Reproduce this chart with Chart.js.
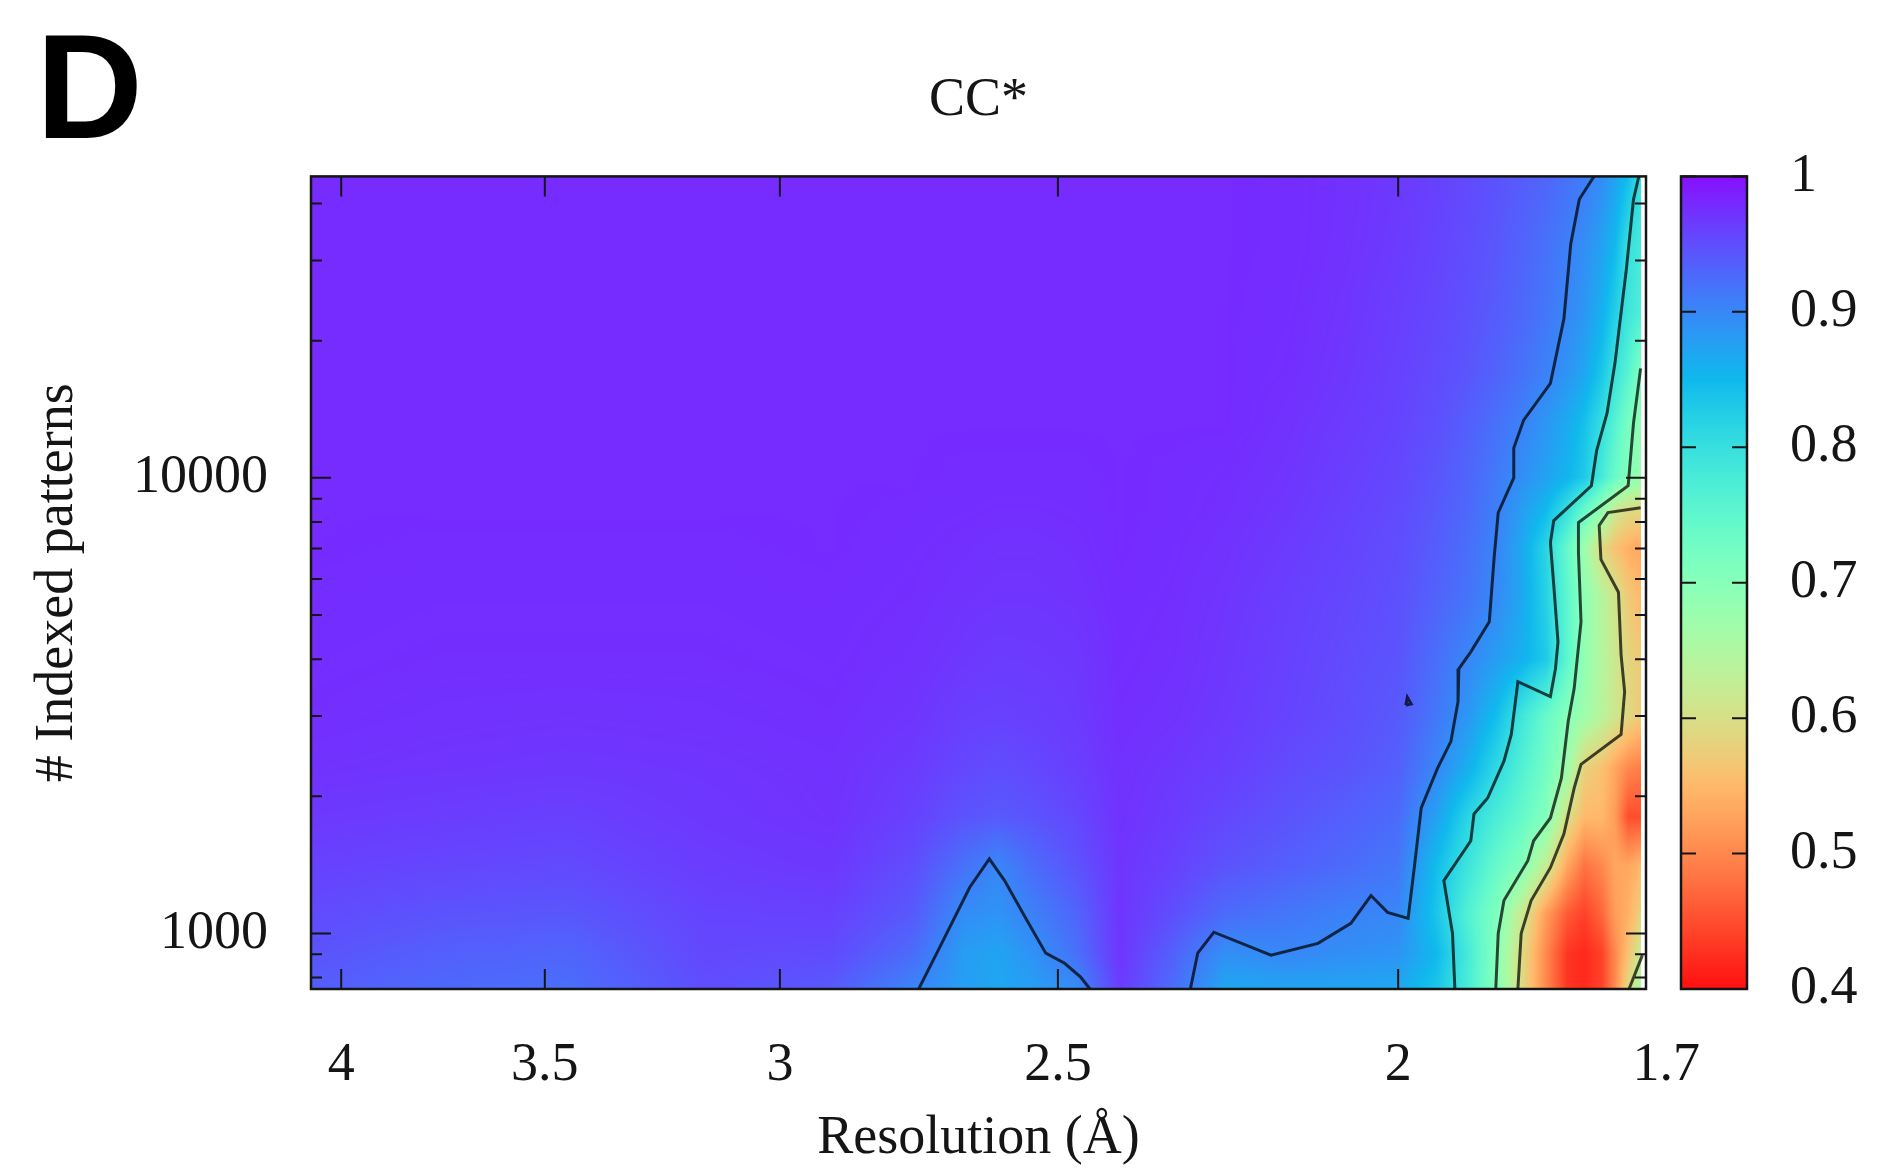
<!DOCTYPE html>
<html>
<head>
<meta charset="utf-8">
<title>CC*</title>
<script src="https://cdn.jsdelivr.net/npm/chart.js@4.4.1/dist/chart.umd.min.js"></script>
<style>
  html, body { margin: 0; padding: 0; background: #fff; }
  #wrap { width: 1887px; height: 1176px; }
</style>
</head>
<body>
<div id="wrap"><canvas id="heat"></canvas></div>
<script>
// grid columns (resolution, A) and rows (# indexed patterns)
const resolution = [4.08, 3.75, 3.45, 3.15, 2.9, 2.75, 2.66, 2.6, 2.54, 2.47, 2.4, 2.32, 2.24, 2.15, 2.07, 2.0, 1.95, 1.91, 1.875, 1.845, 1.815, 1.79, 1.77, 1.75, 1.735, 1.72, 1.706];
const patterns = [755, 900, 1100, 1400, 1800, 2300, 3000, 4000, 5500, 7000, 8500, 10000, 13000, 17000, 23000, 32000, 45900];

// CC* values, one row per pattern count (bottom to top)
const ccStar = [
  [0.937, 0.927, 0.922, 0.95, 0.94, 0.902, 0.878, 0.87, 0.878, 0.895, 0.965, 0.925, 0.87, 0.872, 0.872, 0.868, 0.835, 0.775, 0.70, 0.595, 0.50, 0.43, 0.42, 0.44, 0.50, 0.59, 0.66],
  [0.945, 0.935, 0.93, 0.955, 0.952, 0.925, 0.88, 0.872, 0.89, 0.92, 0.97, 0.935, 0.892, 0.9, 0.893, 0.888, 0.85, 0.78, 0.70, 0.595, 0.50, 0.43, 0.42, 0.44, 0.50, 0.56, 0.62],
  [0.952, 0.945, 0.942, 0.958, 0.96, 0.94, 0.895, 0.888, 0.906, 0.93, 0.97, 0.95, 0.925, 0.915, 0.905, 0.9, 0.835, 0.765, 0.71, 0.62, 0.52, 0.46, 0.44, 0.47, 0.52, 0.54, 0.58],
  [0.96, 0.956, 0.953, 0.964, 0.968, 0.95, 0.92, 0.9, 0.925, 0.945, 0.97, 0.96, 0.945, 0.935, 0.925, 0.915, 0.845, 0.79, 0.74, 0.705, 0.62, 0.53, 0.48, 0.5, 0.53, 0.53, 0.55],
  [0.967, 0.964, 0.961, 0.968, 0.972, 0.96, 0.945, 0.94, 0.945, 0.955, 0.972, 0.965, 0.955, 0.945, 0.935, 0.925, 0.875, 0.815, 0.775, 0.745, 0.705, 0.6, 0.55, 0.55, 0.52, 0.45, 0.45],
  [0.972, 0.97, 0.968, 0.97, 0.973, 0.965, 0.955, 0.95, 0.955, 0.962, 0.973, 0.968, 0.962, 0.952, 0.945, 0.935, 0.9, 0.86, 0.81, 0.767, 0.725, 0.672, 0.58, 0.56, 0.53, 0.5, 0.49],
  [0.975, 0.973, 0.972, 0.973, 0.975, 0.97, 0.962, 0.96, 0.962, 0.966, 0.975, 0.972, 0.966, 0.958, 0.95, 0.94, 0.915, 0.885, 0.845, 0.79, 0.74, 0.70, 0.672, 0.638, 0.613, 0.59, 0.57],
  [0.976, 0.975, 0.975, 0.975, 0.976, 0.973, 0.968, 0.965, 0.966, 0.968, 0.976, 0.974, 0.968, 0.96, 0.952, 0.945, 0.922, 0.9, 0.88, 0.86, 0.83, 0.752, 0.686, 0.644, 0.614, 0.585, 0.57],
  [0.977, 0.976, 0.976, 0.976, 0.977, 0.975, 0.972, 0.97, 0.97, 0.972, 0.977, 0.975, 0.97, 0.962, 0.955, 0.948, 0.932, 0.918, 0.898, 0.87, 0.82, 0.752, 0.69, 0.642, 0.608, 0.57, 0.55],
  [0.978, 0.977, 0.977, 0.977, 0.978, 0.976, 0.974, 0.972, 0.972, 0.974, 0.978, 0.976, 0.972, 0.965, 0.958, 0.95, 0.937, 0.922, 0.902, 0.87, 0.815, 0.742, 0.673, 0.59, 0.56, 0.54, 0.53],
  [0.978, 0.978, 0.978, 0.978, 0.978, 0.977, 0.976, 0.975, 0.975, 0.976, 0.978, 0.977, 0.974, 0.968, 0.96, 0.952, 0.94, 0.927, 0.908, 0.88, 0.85, 0.8, 0.743, 0.685, 0.62, 0.595, 0.59],
  [0.978, 0.978, 0.978, 0.978, 0.978, 0.978, 0.977, 0.977, 0.977, 0.977, 0.978, 0.977, 0.975, 0.97, 0.962, 0.955, 0.943, 0.93, 0.912, 0.893, 0.875, 0.855, 0.83, 0.78, 0.738, 0.703, 0.68],
  [0.978, 0.978, 0.978, 0.978, 0.978, 0.978, 0.978, 0.978, 0.978, 0.978, 0.978, 0.978, 0.978, 0.972, 0.965, 0.958, 0.948, 0.935, 0.92, 0.905, 0.885, 0.865, 0.84, 0.8, 0.76, 0.717, 0.69],
  [0.978, 0.978, 0.978, 0.978, 0.978, 0.978, 0.978, 0.978, 0.978, 0.978, 0.978, 0.978, 0.978, 0.975, 0.968, 0.96, 0.952, 0.943, 0.932, 0.92, 0.905, 0.888, 0.87, 0.835, 0.795, 0.76, 0.71],
  [0.978, 0.978, 0.978, 0.978, 0.978, 0.978, 0.978, 0.978, 0.978, 0.978, 0.978, 0.978, 0.978, 0.976, 0.97, 0.962, 0.955, 0.947, 0.938, 0.928, 0.915, 0.9, 0.885, 0.86, 0.825, 0.79, 0.77],
  [0.978, 0.978, 0.978, 0.978, 0.978, 0.978, 0.978, 0.978, 0.978, 0.978, 0.978, 0.978, 0.978, 0.977, 0.972, 0.965, 0.958, 0.95, 0.942, 0.932, 0.92, 0.907, 0.893, 0.875, 0.85, 0.8, 0.78],
  [0.978, 0.978, 0.978, 0.978, 0.978, 0.978, 0.978, 0.978, 0.978, 0.978, 0.978, 0.978, 0.978, 0.977, 0.973, 0.967, 0.96, 0.953, 0.946, 0.938, 0.93, 0.92, 0.91, 0.895, 0.875, 0.845, 0.8]
];

// contour lines, [resolution, patterns]
const contour090 = [[1.759, 45900], [1.776, 40880], [1.786, 32610], [1.794, 22360], [1.810, 16130], [1.842, 13390], [1.854, 11630], [1.854, 10000], [1.873, 8390], [1.878, 6690], [1.884, 4830], [1.907, 4150], [1.922, 3810], [1.923, 3230], [1.932, 2640], [1.949, 2305], [1.970, 1885], [1.979, 1394], [1.987, 1079], [2.014, 1112], [2.036, 1211], [2.063, 1052], [2.108, 951], [2.174, 896], [2.257, 1006], [2.281, 905], [2.292, 755]];
const contour090bump = [[2.739, 755], [2.704, 919], [2.649, 1261], [2.615, 1458], [2.589, 1306], [2.554, 1084], [2.520, 905], [2.489, 860], [2.463, 802], [2.448, 755]];
const contour090dot = [[1.990, 3170], [1.983, 3190], [1.988, 3300], [1.990, 3170]];
const contour080 = [[1.708, 45900], [1.714, 40880], [1.722, 28750], [1.735, 17840], [1.744, 13870], [1.756, 11460], [1.762, 9610], [1.806, 8060], [1.810, 7215], [1.806, 5812], [1.801, 4364], [1.804, 3811], [1.810, 3310], [1.849, 3569], [1.857, 2735], [1.866, 2388], [1.886, 1982], [1.903, 1829], [1.907, 1597], [1.941, 1306], [1.930, 1000], [1.927, 755]];
const contour070 = [[1.706, 17390], [1.714, 13190], [1.720, 9610], [1.777, 7980], [1.777, 6860], [1.774, 4830], [1.782, 3446], [1.789, 2919], [1.797, 2192], [1.810, 1792], [1.830, 1597], [1.837, 1444], [1.866, 1181], [1.873, 1000], [1.876, 755]];
const contour060 = [[1.706, 8600], [1.743, 8390], [1.753, 7862], [1.751, 6624], [1.731, 5611], [1.728, 4088], [1.724, 3394], [1.728, 2735], [1.774, 2351], [1.782, 2084], [1.794, 1654], [1.810, 1394], [1.833, 1181], [1.845, 1000], [1.849, 755]];
const contour060edge = [[1.719, 755], [1.704, 896]];

// ticks
const xTicks = [4, 3.5, 3, 2.5, 2, 1.7];
const yTicks = [1000, 10000];
const yMinorTicks = [800, 900, 2000, 3000, 4000, 5000, 6000, 7000, 8000, 9000, 20000, 30000, 40000];
const cbTicks = [1, 0.9, 0.8, 0.7, 0.6, 0.5, 0.4];

const serif = '"Liberation Serif", "Times New Roman", serif';
const ink = '#151515';

// gnuplot rgbformulae 33,13,10, purple at 1 and red at 0.4
function palette(v) {
  let g = (1 - v) / 0.6;
  g = Math.max(0, Math.min(1, g));
  let r = Math.min(1, Math.abs(2 * g - 0.5));
  let gr = Math.max(0, Math.sin(Math.PI * g));
  let b = Math.max(0, Math.cos(Math.PI * g / 2));
  const wash = 0.06;
  return [
    Math.round(255 * (r * (1 - wash) + wash)),
    Math.round(255 * (gr * (1 - wash) + wash)),
    Math.round(255 * (b * (1 - wash) + wash))
  ];
}

let heatImage = null;

function buildHeat(chart) {
  const a = chart.chartArea;
  const xs = chart.scales.x, ys = chart.scales.y;
  const w = Math.round(a.right - a.left), h = Math.round(a.bottom - a.top);
  const off = document.createElement('canvas');
  off.width = w; off.height = h;
  const octx = off.getContext('2d');
  const img = octx.createImageData(w, h);
  const lx = resolution.map(Math.log10);
  const ly = patterns.map(Math.log10);

  const colJ = new Int16Array(w), colT = new Float32Array(w);
  for (let i = 0; i < w; i++) {
    const v = Math.log10(xs.getValueForPixel(a.left + i + 0.5));
    colJ[i] = -1;
    if (v >= lx[0]) { colJ[i] = 0; colT[i] = 0; continue; }
    for (let j = 0; j < lx.length - 1; j++) {
      if (v <= lx[j] && v >= lx[j + 1]) {
        colJ[i] = j;
        colT[i] = (lx[j] - v) / (lx[j] - lx[j + 1]);
        break;
      }
    }
  }
  const rowK = new Int16Array(h), rowT = new Float32Array(h);
  for (let k = 0; k < h; k++) {
    const v = Math.log10(ys.getValueForPixel(a.top + k + 0.5));
    if (v <= ly[0]) { rowK[k] = 0; rowT[k] = 0; continue; }
    if (v >= ly[ly.length - 1]) { rowK[k] = ly.length - 2; rowT[k] = 1; continue; }
    for (let r = 0; r < ly.length - 1; r++) {
      if (v >= ly[r] && v <= ly[r + 1]) {
        rowK[k] = r;
        rowT[k] = (v - ly[r]) / (ly[r + 1] - ly[r]);
        break;
      }
    }
  }

  for (let k = 0; k < h; k++) {
    const r = rowK[k], ty = rowT[k];
    const lo = ccStar[r], hi = ccStar[r + 1];
    for (let i = 0; i < w; i++) {
      const j = colJ[i];
      const p = (k * w + i) * 4;
      if (j < 0) { img.data[p + 3] = 0; continue; }
      const tx = colT[i];
      const z0 = lo[j] + (lo[j + 1] - lo[j]) * tx;
      const z1 = hi[j] + (hi[j + 1] - hi[j]) * tx;
      const c = palette(z0 + (z1 - z0) * ty);
      img.data[p] = c[0]; img.data[p + 1] = c[1]; img.data[p + 2] = c[2]; img.data[p + 3] = 255;
    }
  }
  octx.putImageData(img, 0, 0);
  return off;
}

const heatPlugin = {
  id: 'heat',
  beforeDatasetsDraw(chart) {
    const a = chart.chartArea;
    if (!heatImage) heatImage = buildHeat(chart);
    chart.ctx.drawImage(heatImage, Math.round(a.left), Math.round(a.top));
  },
  afterDatasetsDraw(chart) {
    const ctx = chart.ctx, a = chart.chartArea;
    const xs = chart.scales.x, ys = chart.scales.y, cb = chart.scales.cb;
    ctx.save();
    ctx.strokeStyle = ink;
    ctx.lineWidth = 2;
    ctx.beginPath();
    xTicks.forEach(v => {
      const px = xs.getPixelForValue(v);
      if (px < a.left || px > a.right) return;
      ctx.moveTo(px, a.bottom); ctx.lineTo(px, a.bottom - 20);
      ctx.moveTo(px, a.top); ctx.lineTo(px, a.top + 20);
    });
    yTicks.forEach(v => {
      const py = ys.getPixelForValue(v);
      ctx.moveTo(a.left, py); ctx.lineTo(a.left + 20, py);
      ctx.moveTo(a.right, py); ctx.lineTo(a.right - 20, py);
    });
    yMinorTicks.forEach(v => {
      const py = ys.getPixelForValue(v);
      if (py < a.top || py > a.bottom) return;
      ctx.moveTo(a.left, py); ctx.lineTo(a.left + 11, py);
      ctx.moveTo(a.right, py); ctx.lineTo(a.right - 11, py);
    });
    ctx.stroke();
    ctx.lineWidth = 2.5;
    ctx.strokeRect(a.left, a.top, a.right - a.left, a.bottom - a.top);

    // colour box
    const bx = cb.left + 35, bw = 66;
    for (let py = Math.floor(cb.top); py < cb.bottom; py++) {
      const c = palette(cb.getValueForPixel(py + 0.5));
      ctx.fillStyle = 'rgb(' + c.join(',') + ')';
      ctx.fillRect(bx, py, bw, 1);
    }
    ctx.lineWidth = 2;
    ctx.beginPath();
    cbTicks.forEach(v => {
      const py = cb.getPixelForValue(v);
      ctx.moveTo(bx, py); ctx.lineTo(bx + 15, py);
      ctx.moveTo(bx + bw, py); ctx.lineTo(bx + bw - 15, py);
    });
    ctx.stroke();
    ctx.lineWidth = 2.5;
    ctx.strokeRect(bx, cb.top, bw, cb.bottom - cb.top);
    ctx.restore();
  },
  afterDraw(chart) {
    const ctx = chart.ctx;
    ctx.save();
    ctx.fillStyle = '#000';
    ctx.font = 'bold 148px "Liberation Sans", Arial, sans-serif';
    ctx.textBaseline = 'alphabetic';
    ctx.fillText('D', 36, 138);
    ctx.restore();
  }
};

function line(data) {
  return {
    data: data.map(p => ({ x: p[0], y: p[1] })),
    showLine: true,
    borderColor: 'rgba(0,0,0,0.72)',
    borderWidth: 3,
    pointRadius: 0,
    tension: 0,
    fill: false
  };
}

const tickFont = { family: serif, size: 54 };

new Chart(document.getElementById('heat'), {
  type: 'scatter',
  data: {
    datasets: [contour090, contour090bump, contour090dot, contour080, contour070, contour060, contour060edge].map(line)
  },
  options: {
    responsive: true,
    maintainAspectRatio: false,
    animation: false,
    events: [],
    layout: { padding: 0 },
    plugins: {
      legend: { display: false },
      tooltip: { enabled: false },
      title: {
        display: true,
        text: 'CC*',
        fullSize: false,
        color: ink,
        font: { family: serif, size: 54, weight: 'normal' },
        padding: { top: 64, bottom: 43 }
      }
    },
    scales: {
      x: {
        type: 'logarithmic',
        position: 'bottom',
        reverse: true,
        min: 1.7,
        max: 4.08,
        afterBuildTicks: s => { s.ticks = xTicks.map(v => ({ value: v })); },
        afterFit: s => { s.height = 187; },
        grid: { display: false, drawTicks: false },
        border: { display: false },
        // the last label sits a little right of the frame in the original
        ticks: { font: tickFont, color: ink, padding: 44, autoSkip: false, maxRotation: 0, callback: v => (v === 1.7 ? '   1.7' : String(v)) },
        title: { display: true, text: 'Resolution (Å)', font: tickFont, color: ink, padding: { top: 0, bottom: 5 } }
      },
      y: {
        type: 'logarithmic',
        position: 'left',
        min: 755,
        max: 45900,
        afterBuildTicks: s => { s.ticks = yTicks.map(v => ({ value: v })); },
        afterFit: s => { s.width = 311; },
        grid: { display: false, drawTicks: false },
        border: { display: false },
        ticks: { font: tickFont, color: ink, padding: 43, autoSkip: false, callback: v => String(v) },
        title: { display: true, text: '# Indexed patterns', font: tickFont, color: ink, padding: { top: 25, bottom: 0 } }
      },
      cb: {
        type: 'linear',
        axis: 'y',
        position: 'right',
        min: 0.4,
        max: 1,
        afterBuildTicks: s => { s.ticks = cbTicks.map(v => ({ value: v })); },
        afterFit: s => { s.width = 241; },
        grid: { display: false, drawTicks: false },
        border: { display: false },
        ticks: { font: tickFont, color: ink, padding: 144, autoSkip: false, callback: v => String(v) }
      }
    }
  },
  plugins: [heatPlugin]
});
</script>
</body>
</html>
